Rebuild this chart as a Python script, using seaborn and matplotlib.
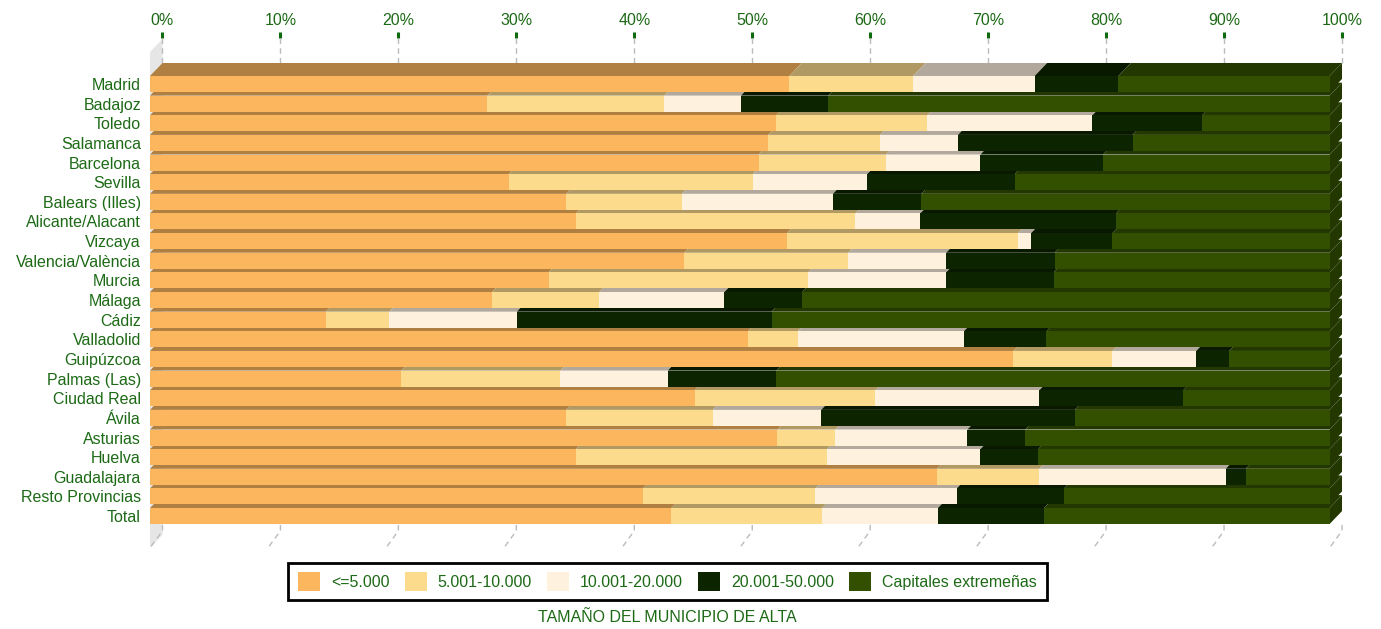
import numpy as np
import pandas as pd
import seaborn as sns
import matplotlib.pyplot as plt
from matplotlib.patches import Polygon, Patch
from matplotlib.colors import to_rgb

# Data
provincias = ['Madrid', 'Badajoz', 'Toledo', 'Salamanca', 'Barcelona', 'Sevilla',
              'Balears (Illes)', 'Alicante/Alacant', 'Vizcaya', 'Valencia/València',
              'Murcia', 'Málaga', 'Cádiz', 'Valladolid', 'Guipúzcoa', 'Palmas (Las)',
              'Ciudad Real', 'Ávila', 'Asturias', 'Huelva', 'Guadalajara',
              'Resto Provincias', 'Total']
series = ['<=5.000', '5.001-10.000', '10.001-20.000', '20.001-50.000',
          'Capitales extremeñas']
hasta_5000 = [54.2, 28.6, 53.1, 52.4, 51.6, 30.4, 35.3, 36.1, 54.0, 45.3, 33.8, 29.0,
              14.9, 50.7, 73.2, 21.3, 46.2, 35.3, 53.2, 36.1, 66.7, 41.8, 44.2]
de_5001_10000 = [10.5, 15.0, 12.8, 9.5, 10.8, 20.7, 9.8, 23.7, 19.6, 13.9, 22.0, 9.1,
                 5.4, 4.2, 8.4, 13.5, 15.3, 12.4, 4.9, 21.3, 8.7, 14.6, 12.8]
de_10001_20000 = [10.3, 6.5, 14.0, 6.6, 8.0, 9.7, 12.8, 5.5, 1.1, 8.3, 11.7, 10.6,
                  10.8, 14.1, 7.1, 9.1, 13.9, 9.2, 11.2, 13.0, 15.8, 12.0, 9.8]
de_20001_50000 = [7.1, 7.4, 9.3, 14.8, 10.4, 12.5, 7.5, 16.6, 6.9, 9.2, 9.1, 6.6,
                  21.6, 7.0, 2.8, 9.2, 12.2, 21.5, 4.9, 4.9, 1.7, 9.1, 9.0]
capitales = [17.9, 42.5, 10.8, 16.7, 19.2, 26.7, 34.6, 18.1, 18.4, 23.3, 23.4, 44.7,
             47.3, 24.0, 8.5, 46.9, 12.4, 21.6, 25.8, 24.7, 7.1, 22.5, 24.2]
ticks = [0, 10, 20, 30, 40, 50, 60, 70, 80, 90, 100]

colors = ['#FCB65E', '#FDDB8D', '#FEF2DF', '#0C2400', '#325000']
text_green = '#1d6a16'
shade = 0.7

df = pd.DataFrame({'provincia': provincias, series[0]: hasta_5000,
                   series[1]: de_5001_10000, series[2]: de_10001_20000,
                   series[3]: de_20001_50000, series[4]: capitales})
cum = df[series].cumsum(axis=1)
left = cum - df[series]

sns.set_style('white')
plt.rcParams['font.family'] = ['Liberation Sans', 'DejaVu Sans']

bar_h = 0.815
dx = 12.5 / 11.8      # depth in x units
dy = -13 / 19.64      # depth in row units

fig = plt.figure(figsize=(13.81, 6.29), dpi=100)
# front 0% at px 150, back 100% at px 1342
ax = fig.add_axes([150 / 1381, 1 - 548 / 629, 1192 / 1381, 510 / 629])
ax.set_facecolor('none')

# Front faces: stacked by drawing cumulative sums from the back
for s, c in reversed(list(zip(series, colors))):
    sns.barplot(x=cum[s], y=df['provincia'], orient='h', color=c, width=bar_h,
                saturation=1, linewidth=0, zorder=3, ax=ax)

# Top faces and right side
for i in range(len(provincias)):
    top = i - bar_h / 2
    for s, c in zip(series, colors):
        x0, x1 = left.loc[i, s], cum.loc[i, s]
        dark = tuple(v * shade for v in to_rgb(c))
        ax.add_patch(Polygon([(x0, top), (x1, top), (x1 + dx, top + dy), (x0 + dx, top + dy)],
                             closed=True, facecolor=dark, edgecolor='none', zorder=2,
                             clip_on=False))
    side = tuple(v * shade for v in to_rgb(colors[-1]))
    x1 = cum.loc[i, series[-1]]
    ax.add_patch(Polygon([(x1, top), (x1 + dx, top + dy), (x1 + dx, i + bar_h / 2 + dy),
                          (x1, i + bar_h / 2)], closed=True, facecolor=side,
                         edgecolor='none', zorder=2, clip_on=False))

# Left wall
wall_top, wall_bot = -1.63, 23.62
ax.add_patch(Polygon([(0, wall_bot), (0, wall_top), (dx, wall_top + dy), (dx, wall_bot + dy)],
                     closed=True, facecolor='#e6e6e6', edgecolor='none', zorder=1,
                     clip_on=False))

# Grid lines on the back wall and floor
for t in ticks:
    ax.plot([t + dx, t + dx], [-2.34, -1.07], color='#bbbbbb', lw=1, ls=(0, (4, 3)),
            zorder=1, clip_on=False)
    ax.plot([t + dx, t + dx, t], [22.45, 22.75, 23.62], color='#bbbbbb', lw=1,
            ls=(0, (4, 3)), zorder=1, clip_on=False)

for sp in ax.spines.values():
    sp.set_visible(False)

ax.xaxis.tick_top()
ax.set_xticks([t + dx for t in ticks])
ax.set_xticklabels([f'{t}%' for t in ticks])
ax.tick_params(axis='x', colors='#0f6a0f', length=4.3, width=2.2, pad=3, labelsize=11.5)
ax.tick_params(axis='x', labelcolor=text_green)
ax.tick_params(axis='y', length=0, pad=6.5, labelsize=11.5, labelcolor=text_green)
ax.set_xlabel('')
ax.set_ylabel('')
# limits last, set_xticks would change them
ax.set_xlim(0, 100 + dx)
ax.set_ylim(23.625, -2.342)

# Legend
handles = [Patch(facecolor=c, edgecolor='none') for c in colors]
leg = fig.legend(handles, series, loc='center', bbox_to_anchor=(667.5 / 1381, 1 - 581.5 / 629),
                 ncol=5, frameon=True, fancybox=False, framealpha=1, edgecolor='black',
                 fontsize=11.5, labelcolor=text_green, handlelength=1.375, handleheight=1.375,
                 handletextpad=0.69, columnspacing=0.95, borderpad=0.6)
leg.get_frame().set_linewidth(2)

fig.text(667.5 / 1381, 1 - 618 / 629, 'TAMAÑO DEL MUNICIPIO DE ALTA', ha='center',
         va='center', fontsize=11.5, color=text_green)

fig.savefig('out.png', dpi=100)
